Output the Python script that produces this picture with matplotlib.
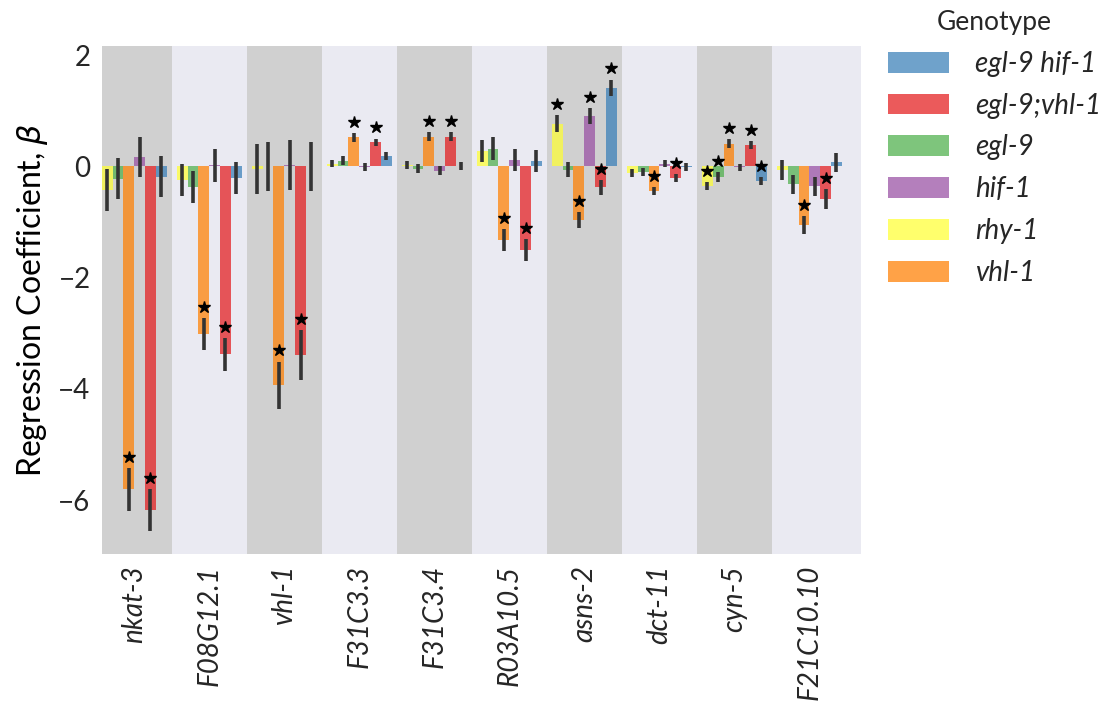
import numpy as np
import matplotlib
matplotlib.use("Agg")
import matplotlib.pyplot as plt
from matplotlib.patches import Patch

plt.rcParams['font.family'] = ['Lato', 'DejaVu Sans']
plt.rcParams['text.color'] = '#262626'
plt.rcParams['xtick.color'] = '#262626'
plt.rcParams['ytick.color'] = '#262626'

genes = ['nkat-3', 'F08G12.1', 'vhl-1', 'F31C3.3', 'F31C3.4',
         'R03A10.5', 'asns-2', 'dct-11', 'cyn-5', 'F21C10.10']

# order of the bars inside each gene group
genotypes = ['rhy-1', 'egl-9', 'vhl-1', 'hif-1', 'egl-9;vhl-1', 'egl-9 hif-1']
colors = ['#ffff33', '#4daf4a', '#ff7f00', '#984ea3', '#e41a1c', '#377eb8']

# regression coefficients
beta_rhy1 = [-0.42, -0.24, -0.05, 0.05, 0.03, 0.27, 0.77, -0.12, -0.36, -0.07]
beta_egl9 = [-0.22, -0.37, 0.00, 0.10, -0.04, 0.32, -0.06, -0.10, -0.19, -0.32]
beta_vhl1 = [-5.81, -3.02, -3.94, 0.52, 0.53, -1.33, -0.97, -0.44, 0.41, -1.05]
beta_hif1 = [0.16, 0.02, 0.03, -0.01, -0.08, 0.11, 0.91, 0.05, -0.02, -0.36]
beta_egl9vhl1 = [-6.18, -3.38, -3.39, 0.43, 0.53, -1.51, -0.38, -0.21, 0.38, -0.59]
beta_egl9hif1 = [-0.19, -0.21, 0.00, 0.18, 0.01, 0.09, 1.41, -0.01, -0.26, 0.07]

# half-width of the error bars
err_rhy1 = [0.38, 0.29, 0.45, 0.07, 0.07, 0.20, 0.15, 0.07, 0.07, 0.18]
err_egl9 = [0.37, 0.29, 0.44, 0.08, 0.08, 0.20, 0.14, 0.07, 0.09, 0.17]
err_vhl1 = [0.38, 0.29, 0.43, 0.08, 0.08, 0.20, 0.14, 0.07, 0.08, 0.16]
err_hif1 = [0.36, 0.30, 0.45, 0.07, 0.08, 0.20, 0.14, 0.07, 0.07, 0.17]
err_egl9vhl1 = [0.38, 0.30, 0.45, 0.07, 0.08, 0.20, 0.14, 0.07, 0.07, 0.18]
err_egl9hif1 = [0.37, 0.29, 0.44, 0.07, 0.07, 0.20, 0.15, 0.07, 0.07, 0.17]

# significant coefficients (marked with a star)
sig_rhy1 = [0, 0, 0, 0, 0, 0, 1, 0, 1, 0]
sig_egl9 = [0, 0, 0, 0, 0, 0, 0, 0, 1, 0]
sig_vhl1 = [1, 1, 1, 1, 1, 1, 1, 1, 1, 1]
sig_hif1 = [0, 0, 0, 0, 0, 0, 1, 0, 0, 0]
sig_egl9vhl1 = [1, 1, 1, 1, 1, 1, 1, 1, 1, 1]
sig_egl9hif1 = [0, 0, 0, 0, 0, 0, 1, 0, 1, 0]

betas = [beta_rhy1, beta_egl9, beta_vhl1, beta_hif1, beta_egl9vhl1, beta_egl9hif1]
errs = [err_rhy1, err_egl9, err_vhl1, err_hif1, err_egl9vhl1, err_egl9hif1]
sigs = [sig_rhy1, sig_egl9, sig_vhl1, sig_hif1, sig_egl9vhl1, sig_egl9hif1]

fig = plt.figure(figsize=(11.07, 7.13), dpi=100)
ax = fig.add_axes([0.0919, 0.223, 0.686, 0.713])
ax.set_facecolor('#eaeaf2')
for s in ax.spines.values():
    s.set_visible(False)

x = np.arange(len(genes))
for i in x[::2]:
    ax.axvspan(i - 0.5, i + 0.5, color='#d0d0d0', lw=0, zorder=0)

w = 0.1444
for k, g in enumerate(genotypes):
    pos = x + (k - 2.5) * w
    b = np.array(betas[k])
    e = np.array(errs[k])
    ax.bar(pos, b, width=w, color=colors[k], alpha=0.72, lw=0, zorder=2)
    ax.vlines(pos, b - e, b + e, color='#333333', lw=2.6, zorder=3)
    sig = np.array(sigs[k]).astype(bool)
    ax.plot(pos[sig], (b + e)[sig] + 0.2, ls='none', marker='*',
            ms=9, color='black', zorder=4)

ax.set_xlim(-3 * w, 9.69)
ax.set_ylim(-6.97, 2.17)
ax.set_yticks([-6, -4, -2, 0, 2])
ax.set_xticks(x)
ax.set_xticklabels(genes, rotation=90, style='italic', fontsize=20)
ax.tick_params(axis='y', labelsize=20)
ax.tick_params(length=0, pad=8)
ax.set_ylabel(r'Regression Coefficient, $\beta$', fontsize=23, labelpad=6)

handles = [Patch(facecolor=colors[k], alpha=0.72, lw=0) for k in range(6)]
leg_order = [5, 4, 1, 3, 0, 2]
leg = fig.legend([handles[k] for k in leg_order], [genotypes[k] for k in leg_order],
                 title='Genotype', loc='upper left', bbox_to_anchor=(0.802, 0.986),
                 frameon=False, prop={'size': 20, 'style': 'italic'},
                 title_fontsize=19, handlelength=2.2, handleheight=0.78,
                 labelspacing=0.57, handletextpad=0.95, borderpad=0,
                 borderaxespad=0)

fig.savefig('out.png', dpi=100)
